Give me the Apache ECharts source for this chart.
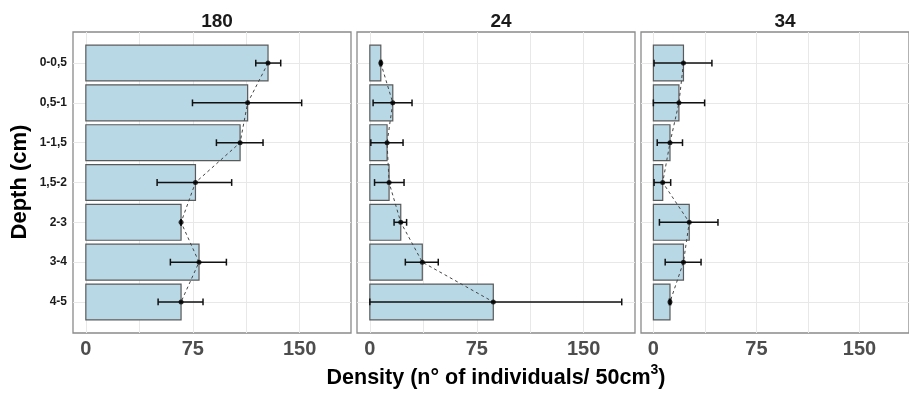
<!DOCTYPE html>
<html>
<head>
<meta charset="utf-8">
<script src="https://cdn.jsdelivr.net/npm/echarts@6/dist/echarts.min.js"></script>
<style>
    html, body { margin: 0; padding: 0; background: #fff; }
    #chart { width: 909px; height: 393px; }
</style>
</head>
<body>
<div id="chart"></div>
<script>
//深度分类（从上到下）
const depths = ['0-0,5', '0,5-1', '1-1,5', '1,5-2', '2-3', '3-4', '4-5'];
//面板标题
const panels = ['180', '24', '34'];
//均值
const mean180 = [127.8, 113.5, 108.2, 76.9, 66.8, 79.4, 66.8];
const mean24 = [7.7, 16.1, 12.1, 13.5, 21.7, 36.8, 86.6];
const mean34 = [21.9, 18.6, 12.1, 6.8, 26.1, 21.9, 12.1];
//误差线下限
const low180 = [119.2, 74.8, 91.6, 50.0, 66.8, 59.3, 50.7];
const low24 = [7.2, 2.3, 0.7, 3.3, 17.0, 24.9, 0];
const low34 = [0.5, 0, 2.8, 0.5, 4.4, 8.6, 11.6];
//误差线上限
const high180 = [136.7, 151.4, 124.3, 102.3, 66.8, 98.6, 82.2];
const high24 = [8.2, 29.6, 23.3, 24.0, 25.8, 48.0, 176.7];
const high34 = [42.6, 37.3, 21.2, 12.6, 47.0, 34.7, 12.6];
//坐标轴刻度
const xLabels = [0, 75, 150];
const xGrid = [0, 37.5, 75, 112.5, 150];

const means = [mean180, mean24, mean34];
const lows = [low180, low24, low34];
const highs = [high180, high24, high34];

//面板位置
const panelLeft = [73, 357, 641];
const panelWidth = 278;
const panelTop = 32;
const panelHeight = 301;
const font = 'Liberation Sans, Arial, sans-serif';

let chart = echarts.init(document.getElementById('chart'));

function barItem(params, api) {
    const y = api.value(1);
    const p0 = api.coord([0, y]);
    const p1 = api.coord([api.value(0), y]);
    const h = api.size([0, 0.9])[1];
    return {
        type: 'rect',
        shape: { x: p0[0], y: p0[1] - h / 2, width: p1[0] - p0[0], height: h },
        style: { fill: '#b8d8e6', stroke: '#5a5a5a', lineWidth: 1.2 }
    };
}

function errItem(params, api) {
    const y = api.value(2);
    const a = api.coord([api.value(0), y]);
    const b = api.coord([api.value(1), y]);
    const c = 3.4;
    const style = { stroke: '#111', lineWidth: 1.5 };
    return {
        type: 'group',
        children: [
            { type: 'line', shape: { x1: a[0], y1: a[1], x2: b[0], y2: b[1] }, style: style },
            { type: 'line', shape: { x1: a[0], y1: a[1] - c, x2: a[0], y2: a[1] + c }, style: style },
            { type: 'line', shape: { x1: b[0], y1: b[1] - c, x2: b[0], y2: b[1] + c }, style: style }
        ]
    };
}

let grids = [], xAxes = [], yAxes = [], series = [], titles = [];
for (let k = 0; k < 3; k++) {
    grids.push({
        left: panelLeft[k], top: panelTop, width: panelWidth, height: panelHeight,
        show: true, backgroundColor: '#fff', borderColor: '#8a8a8a', borderWidth: 1.3
    });
    xAxes.push({
        type: 'value', gridIndex: k, min: -9, max: 186,
        axisLine: { show: false },
        axisTick: { show: false, customValues: xGrid },
        axisLabel: {
            customValues: xLabels, margin: 6,
            color: '#4d4d4d', fontSize: 20, fontWeight: 'bold', fontFamily: font
        },
        splitLine: { show: true, lineStyle: { color: '#e8e8e8', width: 1 } }
    });
    yAxes.push({
        type: 'value', gridIndex: k, inverse: true, min: 0.22, max: 7.78,
        axisLine: { show: false },
        axisTick: { show: false, customValues: [1, 2, 3, 4, 5, 6, 7] },
        axisLabel: {
            show: k === 0, customValues: [1, 2, 3, 4, 5, 6, 7], margin: 6,
            formatter: v => depths[Math.round(v) - 1] || '',
            color: '#1a1a1a', fontSize: 12, fontWeight: 'bold', fontFamily: font
        },
        splitLine: { show: true, lineStyle: { color: '#e8e8e8', width: 1 } }
    });
    titles.push({
        text: panels[k], left: panelLeft[k] + panelWidth / 2, top: 7, textAlign: 'center',
        textStyle: { fontSize: 19, fontWeight: 'bold', color: '#1a1a1a', fontFamily: font }
    });
    const pts = means[k].map((m, i) => [m, i + 1]);
    series.push({
        type: 'custom', xAxisIndex: k, yAxisIndex: k, renderItem: barItem,
        data: pts, encode: { x: 0, y: 1 }, z: 1, silent: true
    });
    series.push({
        type: 'line', xAxisIndex: k, yAxisIndex: k, data: pts, symbol: 'none',
        lineStyle: { color: '#444', width: 1, type: [3, 3] }, z: 2, silent: true
    });
    series.push({
        type: 'custom', xAxisIndex: k, yAxisIndex: k, renderItem: errItem,
        data: lows[k].map((l, i) => [l, highs[k][i], i + 1]),
        encode: { x: [0, 1], y: 2 }, z: 3, silent: true
    });
    series.push({
        type: 'scatter', xAxisIndex: k, yAxisIndex: k, data: pts,
        symbolSize: 5, itemStyle: { color: '#000' }, z: 4, silent: true
    });
}

let option = {
    animation: false,
    backgroundColor: '#fff',
    title: titles,
    grid: grids,
    xAxis: xAxes,
    yAxis: yAxes,
    series: series,
    graphic: [
        {
            type: 'text', x: 20, y: 182, rotation: Math.PI / 2,
            style: {
                text: 'Depth (cm)', fill: '#000', font: 'bold 22px ' + font,
                textAlign: 'center', textVerticalAlign: 'middle'
            }
        },
        {
            type: 'text', x: 496, y: 378,
            style: {
                text: 'Density (n° of individuals/ 50cm{sup|3})',
                fill: '#000', fontSize: 21.5, fontWeight: 'bold', fontFamily: font, lineHeight: 30,
                textAlign: 'center', textVerticalAlign: 'middle',
                rich: {
                    sup: { fontSize: 14, fontWeight: 'bold', fontFamily: font, fill: '#000', verticalAlign: 'top', lineHeight: 12 }
                }
            }
        }
    ]
};
chart.setOption(option);
</script>
</body>
</html>
